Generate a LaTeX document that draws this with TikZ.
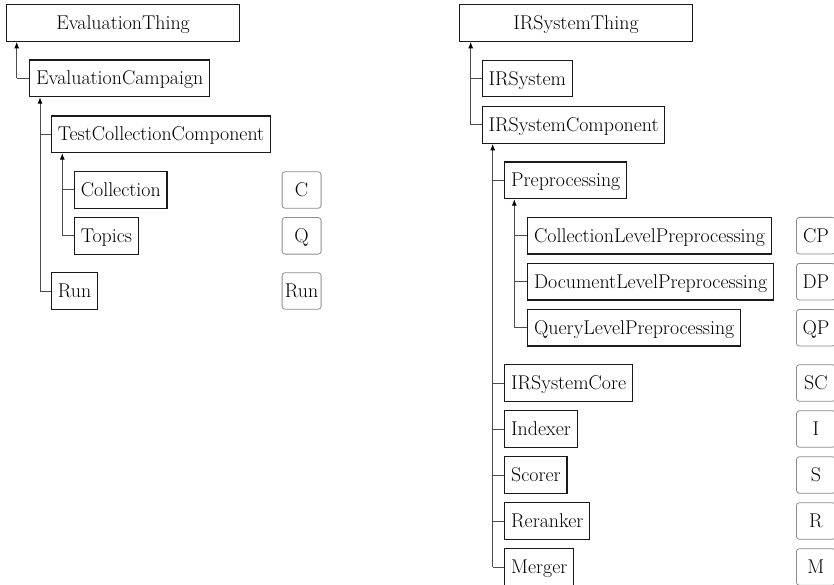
\documentclass[tikz,border=0pt]{standalone}
\usepackage{fontspec}
\usetikzlibrary{arrows.meta}
\definecolor{boxline}{HTML}{1A1A1A}
\definecolor{connline}{HTML}{4D4D4D}
\definecolor{tagline}{HTML}{8C8C8C}
\tikzset{
  cls/.style={draw=boxline, line width=1.1pt, anchor=west, minimum height=36.6pt,
    inner xsep=6.3pt, inner ysep=0pt, text height=13.4pt, text depth=0pt,
    font=\fontsize{19.9}{24}\selectfont},
  rootcls/.style={cls, minimum width=233pt},
  tag/.style={draw=tagline, line width=0.8pt, rounded corners=3pt, anchor=west,
    minimum height=36.6pt, minimum width=39pt, inner xsep=1pt, inner ysep=0pt,
    text height=13.4pt, text depth=0pt, font=\fontsize{19.9}{24}\selectfont},
  conn/.style={draw=connline, line width=1pt},
  trunk/.style={conn, -{Latex[length=6.5pt,width=5pt,color=black]}},
}
\begin{document}
\begin{tikzpicture}[x=1pt,y=-1pt]
\useasboundingbox (0,0) rectangle (834,585);
\clip (0,0) rectangle (834,585);

% left tree
\node[rootcls] (ET) at (6,23) {EvaluationThing};
\node[cls] (EC) at (29.3,78.3) {EvaluationCampaign};
\node[cls] (TCC) at (51,134.3) {TestCollectionComponent};
\node[cls] (Col) at (74,190) {Collection};
\node[cls] (Top) at (74,235.8) {Topics};
\node[cls] (Run) at (51,291) {Run};
\node[tag] (tC) at (281.7,190) {C};
\node[tag] (tQ) at (281.7,235.8) {Q};
\node[tag] (tRun) at (281.7,291) {Run};

\coordinate (xa) at (16.7,0);
\coordinate (xb) at (40,0);
\coordinate (xc) at (62.3,0);

\draw[trunk] (xa |- EC.west) -- (xa |- ET.south);
\draw[conn] (EC.west) -- (xa |- EC.west);
\draw[trunk] (xb |- Run.west) -- (xb |- EC.south);
\draw[conn] (TCC.west) -- (xb |- TCC.west);
\draw[conn] (Run.west) -- (xb |- Run.west);
\draw[trunk] (xc |- Top.west) -- (xc |- TCC.south);
\draw[conn] (Col.west) -- (xc |- Col.west);
\draw[conn] (Top.west) -- (xc |- Top.west);

% right tree
\node[rootcls] (IRST) at (459,23) {IRSystemThing};
\node[cls] (IRS) at (481.7,78.5) {IRSystem};
\node[cls] (IRSC) at (481.7,125) {IRSystemComponent};
\node[cls] (Pre) at (504.3,180.3) {Preprocessing};
\node[cls] (CLP) at (527.3,235.7) {CollectionLevelPreprocessing};
\node[cls] (DLP) at (527.3,281.7) {DocumentLevelPreprocessing};
\node[cls] (QLP) at (527.3,327.7) {QueryLevelPreprocessing};
\node[cls] (Core) at (504.3,383) {IRSystemCore};
\node[cls] (Idx) at (504.3,429) {Indexer};
\node[cls] (Sco) at (504.3,475) {Scorer};
\node[cls] (Rer) at (504.3,521) {Reranker};
\node[cls] (Mer) at (504.3,567) {Merger};

\node[tag] (tCP) at (796,235.7) {CP};
\node[tag] (tDP) at (796,281.7) {DP};
\node[tag] (tQP) at (796,327.7) {QP};
\node[tag] (tSC) at (796,383) {SC};
\node[tag] (tI) at (796,429) {I};
\node[tag] (tS) at (796,475) {S};
\node[tag] (tR) at (796,521) {R};
\node[tag] (tM) at (796,567) {M};

\coordinate (xd) at (470.7,0);
\coordinate (xe) at (492.7,0);
\coordinate (xf) at (514.3,0);

\draw[trunk] (xd |- IRSC.west) -- (xd |- IRST.south);
\draw[conn] (IRS.west) -- (xd |- IRS.west);
\draw[conn] (IRSC.west) -- (xd |- IRSC.west);
\draw[trunk] (xe |- Mer.west) -- (xe |- IRSC.south);
\foreach \n in {Pre,Core,Idx,Sco,Rer,Mer} \draw[conn] (\n.west) -- (xe |- \n.west);
\draw[trunk] (xf |- QLP.west) -- (xf |- Pre.south);
\foreach \n in {CLP,DLP,QLP} \draw[conn] (\n.west) -- (xf |- \n.west);
\end{tikzpicture}
\end{document}
